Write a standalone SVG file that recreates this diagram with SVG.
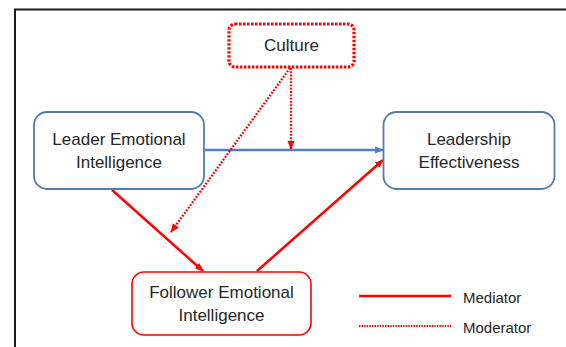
<svg xmlns="http://www.w3.org/2000/svg" width="566" height="347" viewBox="0 0 566 347">
<style>
.box{fill:#fff;stroke:#557BAA;stroke-width:1.8}
.txt{font-family:"Liberation Sans",Arial,sans-serif;font-size:17px;fill:#262626;text-anchor:middle}
.leg{font-family:"Liberation Sans",Arial,sans-serif;font-size:15px;fill:#262626}
.med{stroke:#FF0000;stroke-width:2.5;fill:none}
.mod{stroke:#FF0000;stroke-width:2.3;stroke-dasharray:1.8 1.5;fill:none}
</style>
<defs>
<marker id="ab" viewBox="0 0 10 10" refX="9" refY="5" markerWidth="4" markerHeight="4" orient="auto" markerUnits="strokeWidth"><path d="M0,1 L10,5 L0,9 z" fill="#4F81BD"/></marker>
<marker id="ar" viewBox="0 0 10 10" refX="9" refY="5" markerWidth="3.5" markerHeight="3.5" orient="auto" markerUnits="strokeWidth"><path d="M0,1 L10,5 L0,9 z" fill="#FF0000"/></marker>
<marker id="ard" viewBox="0 0 10 10" refX="9" refY="5" markerWidth="4" markerHeight="4" orient="auto" markerUnits="strokeWidth"><path d="M0,1 L10,5 L0,9 z" fill="#FF0000"/></marker>
</defs>
<rect x="0" y="0" width="566" height="347" fill="#fff"/>
<rect x="15" y="9.5" width="600" height="400" fill="none" stroke="#1a1a1a" stroke-width="2"/>
<g id="connectors">
<line x1="205" y1="150" x2="383" y2="150" stroke="#4F81BD" stroke-width="2.3" marker-end="url(#ab)"/>
<line x1="291" y1="68" x2="291" y2="149" class="mod" marker-end="url(#ard)"/>
<line x1="290" y1="68" x2="171" y2="232" class="mod" marker-end="url(#ard)"/>
<line x1="112" y1="190" x2="203" y2="271" class="med" marker-end="url(#ar)"/>
<line x1="257" y1="271" x2="383" y2="160" class="med" marker-end="url(#ar)"/>
</g>
<g id="culture">
<rect x="229" y="24" width="125" height="43" rx="6" fill="#fff" stroke="#FF0000" stroke-width="3.2" stroke-dasharray="2.4 1.6"/>
<text class="txt" x="291.5" y="51">Culture</text>
</g>
<g id="leader">
<rect class="box" x="34" y="112" width="170" height="77" rx="13"/>
<text class="txt" x="119" y="145">Leader Emotional</text>
<text class="txt" x="119" y="168">Intelligence</text>
</g>
<g id="effectiveness">
<rect class="box" x="383.5" y="112" width="171" height="77" rx="13"/>
<text class="txt" x="469" y="145">Leadership</text>
<text class="txt" x="469" y="168">Effectiveness</text>
</g>
<g id="follower">
<rect x="132" y="272" width="179" height="63" rx="12" fill="#fff" stroke="#FF0000" stroke-width="1.6"/>
<text class="txt" x="221.5" y="298">Follower Emotional</text>
<text class="txt" x="221.5" y="321">Intelligence</text>
</g>
<g id="legend">
<line x1="359" y1="296" x2="451" y2="296" class="med"/>
<line x1="359" y1="326" x2="451" y2="326" stroke="#FF0000" stroke-width="2.2" stroke-dasharray="1.4 1.2"/>
<text class="leg" x="463" y="303">Mediator</text>
<text class="leg" x="463" y="333">Moderator</text>
</g>
</svg>
